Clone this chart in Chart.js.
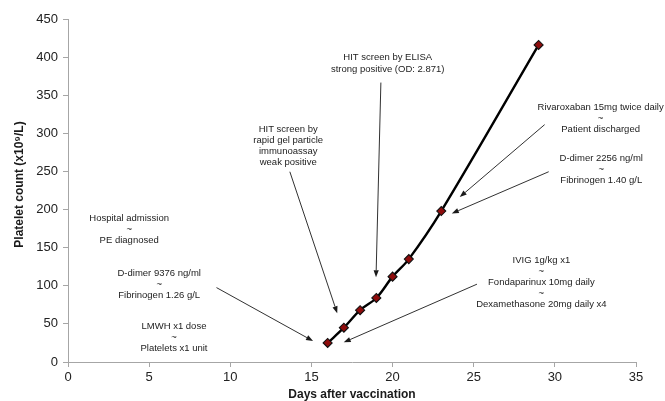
<!DOCTYPE html>
<html>
<head>
<meta charset="utf-8">
<script src="https://cdn.jsdelivr.net/npm/chart.js@4"></script>
<style>
html,body{margin:0;padding:0;background:#fff;}
#wrap{width:665px;height:401px;}
</style>
</head>
<body>
<div id="wrap"><canvas id="c" width="665" height="401"></canvas></div>
<script>
// ---- data ----
const days = [16, 17, 18, 19, 20, 21, 23, 29];
const platelets = [25, 45, 68, 84, 112, 135, 198, 416];
const xTicks = [0, 5, 10, 15, 20, 25, 30, 35];
const yTicks = [0, 50, 100, 150, 200, 250, 300, 350, 400, 450];
const xTitle = 'Days after vaccination';
const yTitle = 'Platelet count (x10\u2079/L)';

// annotation texts (anchored in data units: centre x, first line y)
const noteTexts = [
  ['Hospital admission', '~', 'PE diagnosed'],
  ['D-dimer 9376 ng/ml', '~', 'Fibrinogen 1.26 g/L'],
  ['LMWH x1 dose', '~', 'Platelets x1 unit'],
  ['HIT screen by', 'rapid gel particle', 'immunoassay', 'weak positive'],
  ['HIT screen by ELISA', 'strong positive (OD: 2.871)'],
  ['Rivaroxaban 15mg twice daily', '~', 'Patient discharged'],
  ['D-dimer 2256 ng/ml', '~', 'Fibrinogen 1.40 g/L'],
  ['IVIG 1g/kg x1', '~', 'Fondaparinux 10mg daily', '~', 'Dexamethasone 20mg daily x4']
];
const noteX = [3.77, 5.62, 6.53, 13.57, 19.7, 32.82, 32.86, 29.17];
const noteY = [188, 116.3, 46.9, 305.4, 399.8, 334.3, 267.3, 133.6];

// arrows (data units): from -> to
const arrowFromX = [9.15, 13.67, 19.28, 29.37, 29.62, 25.2];
const arrowFromY = [97.6, 249.6, 366.6, 311.4, 249.6, 102.1];
const arrowToX   = [15.1, 16.59, 18.98, 24.14, 23.65, 16.99];
const arrowToY   = [27.5, 64.0, 111.2, 216.4, 194.9, 25.8];

const FONT = '"Liberation Sans", Arial, Helvetica, sans-serif';

const notesPlugin = {
  id: 'notes',
  afterDraw(chart) {
    const ctx = chart.ctx;
    const xs = chart.scales.x, ys = chart.scales.y;
    ctx.save();
    // arrows
    ctx.strokeStyle = '#1a1a1a';
    ctx.fillStyle = '#1a1a1a';
    ctx.lineWidth = 0.9;
    for (let i = 0; i < arrowFromX.length; i++) {
      const x1 = xs.getPixelForValue(arrowFromX[i]), y1 = ys.getPixelForValue(arrowFromY[i]);
      const x2 = xs.getPixelForValue(arrowToX[i]), y2 = ys.getPixelForValue(arrowToY[i]);
      const a = Math.atan2(y2 - y1, x2 - x1);
      const L = 7, W = 2.6;
      const bx = x2 - L * Math.cos(a), by = y2 - L * Math.sin(a);
      ctx.beginPath();
      ctx.moveTo(x1, y1);
      ctx.lineTo(bx, by);
      ctx.stroke();
      ctx.beginPath();
      ctx.moveTo(x2, y2);
      ctx.lineTo(bx + W * Math.sin(a), by - W * Math.cos(a));
      ctx.lineTo(bx - W * Math.sin(a), by + W * Math.cos(a));
      ctx.closePath();
      ctx.fill();
    }
    // texts
    ctx.fillStyle = '#222';
    ctx.font = '9.5px ' + FONT;
    ctx.textAlign = 'center';
    ctx.textBaseline = 'middle';
    for (let i = 0; i < noteTexts.length; i++) {
      const cx = xs.getPixelForValue(noteX[i]);
      const cy = ys.getPixelForValue(noteY[i]);
      const lh = noteTexts[i].length === 2 ? 12 : 11;
      noteTexts[i].forEach((t, j) => ctx.fillText(t, cx, cy + j * lh));
    }
    // axis titles
    ctx.font = 'bold 12px ' + FONT;
    ctx.fillStyle = '#1a1a1a';
    const ca = chart.chartArea;
    ctx.fillText(xTitle, (ca.left + ca.right) / 2, 395);
    ctx.translate(19.5, (ca.top + ca.bottom) / 2 - 6);
    ctx.rotate(-Math.PI / 2);
    ctx.fillText(yTitle, 0, 0);
    ctx.restore();
  }
};

new Chart(document.getElementById('c'), {
  type: 'scatter',
  data: {
    datasets: [{
      data: days.map((d, i) => ({x: d, y: platelets[i]})),
      showLine: true,
      borderColor: '#000',
      borderWidth: 2.4,
      tension: 0.35,
      pointStyle: 'rectRot',
      pointRadius: 4.5,
      pointHoverRadius: 4.5,
      pointBackgroundColor: '#8e0c0c',
      pointBorderColor: '#111',
      pointBorderWidth: 1.1
    }]
  },
  options: {
    responsive: false,
    animation: false,
    devicePixelRatio: 1,
    layout: {padding: {left: 0, right: 29, top: 19, bottom: 0}},
    plugins: {legend: {display: false}, tooltip: {enabled: false}},
    scales: {
      x: {
        type: 'linear', min: 0, max: 35,
        afterBuildTicks: s => { s.ticks = xTicks.map(v => ({value: v})); },
        afterFit: s => { s.height = 39; },
        ticks: {font: {family: FONT, size: 13}, color: '#222', padding: 3, maxRotation: 0},
        grid: {drawOnChartArea: false, drawTicks: true, tickLength: 5, color: '#a6a6a6'},
        border: {color: '#a6a6a6', width: 1}
      },
      y: {
        type: 'linear', min: 0, max: 450,
        afterBuildTicks: s => { s.ticks = yTicks.map(v => ({value: v})); },
        afterFit: s => { s.width = 68; },
        ticks: {font: {family: FONT, size: 13}, color: '#222', padding: 5},
        grid: {drawOnChartArea: false, drawTicks: true, tickLength: 5, color: '#a6a6a6'},
        border: {color: '#a6a6a6', width: 1}
      }
    }
  },
  plugins: [notesPlugin]
});
</script>
</body>
</html>
